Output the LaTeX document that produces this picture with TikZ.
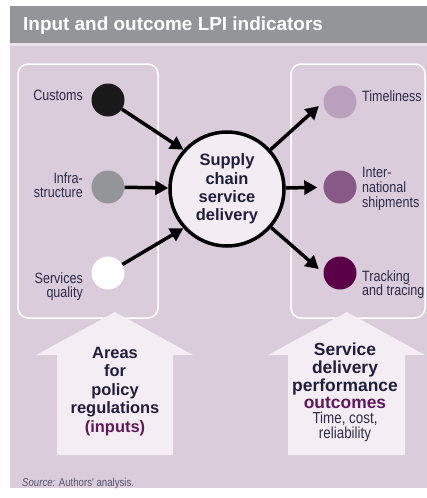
\documentclass[tikz,border=0pt]{standalone}
\usepackage{fontspec}
\setmainfont{Liberation Sans}
\newfontfamily\narrowfont[FakeStretch=0.84]{Liberation Sans}
\usetikzlibrary{arrows.meta,shapes}

\definecolor{hdrgray}{RGB}{147,149,152}
\definecolor{panel}{RGB}{218,204,218}
\definecolor{stripe}{RGB}{233,224,233}
\definecolor{arrowfill}{RGB}{244,237,244}
\definecolor{hub}{RGB}{243,237,243}
\definecolor{timely}{RGB}{186,160,190}
\definecolor{intl}{RGB}{136,88,134}
\definecolor{tracking}{RGB}{90,0,72}
\definecolor{navy}{RGB}{32,30,60}
\definecolor{plum}{RGB}{96,24,90}
\definecolor{labeltext}{RGB}{44,42,72}

\tikzset{
  indot/.style={circle,minimum size=33bp,inner sep=0pt},
  lbl/.style={font=\narrowfont\fontsize{15}{15}\selectfont,text=labeltext,inner sep=0pt},
  headtext/.style={font=\bfseries\fontsize{16.5}{18.5}\selectfont,text=navy,align=center,inner sep=0pt},
  link/.style={->,line width=3.5bp},
  panelbox/.style={draw=white,line width=1.5bp,rounded corners=10bp,minimum height=254bp}
}

\begin{document}
\begin{tikzpicture}[>={Triangle[length=13bp,width=14bp]}]
\useasboundingbox (0,0) rectangle (427bp,-498bp);

\fill[panel] (10bp,-6bp) rectangle (427bp,-488bp);
\fill[hdrgray] (10bp,-6bp) rectangle (427bp,-43bp);
\fill[stripe] (10bp,-43bp) rectangle (427bp,-46bp);
\node (title) at (23bp,-30.5bp)[anchor=base west,text=white,font=\bfseries\fontsize{19}{21}\selectfont,inner sep=0pt] {Input and outcome LPI indicators};

\node (inbox) at (88bp,-191bp)[panelbox,minimum width=140bp] {};
\node (outbox) at (358bp,-191bp)[panelbox,minimum width=134bp] {};

\fill[arrowfill] (115bp,-312bp) -- (193bp,-355bp) -- (173bp,-355bp) -- (173bp,-455bp) -- (57bp,-455bp) -- (57bp,-355bp) -- (36bp,-355bp) -- cycle;
\fill[arrowfill] (347bp,-312bp) -- (425bp,-355bp) -- (405bp,-355bp) -- (405bp,-455bp) -- (288bp,-455bp) -- (288bp,-355bp) -- (268bp,-355bp) -- cycle;

\node (Customs) at (108bp,-100bp)[indot,fill=black!90] {};
\node (Infra) at (108bp,-187bp)[indot,fill=hdrgray] {};
\node (Services) at (108bp,-273bp)[indot,fill=white] {};
\node (Timeliness) at (340bp,-102bp)[indot,fill=timely] {};
\node (Intl) at (340bp,-187bp)[indot,fill=intl] {};
\node (Tracking) at (340bp,-273bp)[indot,fill=tracking] {};
\node (Supply) at (227bp,-189bp)[circle,draw=black,line width=3.5bp,fill=hub,minimum size=114bp,headtext] {Supply\\chain\\service\\delivery};

\node (customslbl) at (83bp,-90bp)[lbl,anchor=north east,align=right] {Customs};
\node (infralbl) at (83bp,-172bp)[lbl,anchor=north east,align=right] {Infra-\\structure};
\node (serviceslbl) at (83bp,-272bp)[lbl,anchor=north east,align=right] {Services\\quality};
\node (timelbl) at (362bp,-90bp)[lbl,anchor=north west,align=left] {Timeliness};
\node (intllbl) at (362bp,-167bp)[lbl,anchor=north west,align=left] {Inter-\\national\\shipments};
\node (tracklbl) at (362bp,-270bp)[lbl,anchor=north west,align=left] {Tracking\\and tracing};

\draw [link] (Customs) -- (Supply.138);
\draw [link] (Infra) -- (Supply);
\draw [link] (Services) -- (Supply.222);
\draw [link,shorten >=6bp] (Supply) -- (Timeliness.west);
\draw [link,shorten >=6bp] (Supply) -- (Intl);
\draw [link,shorten >=6bp] (Supply) -- (Tracking.west);

\node (inhead) at (115bp,-347bp)[headtext,anchor=north] {Areas\\for\\policy\\regulations\\{\color{plum}(inputs)}};
\node (outhead) at (345bp,-343bp)[headtext,anchor=north,font=\bfseries\fontsize{17.5}{17.7}\selectfont] {Service\\delivery\\performance\\{\color{plum}outcomes}};
\node (outnote) at (345bp,-412bp)[lbl,anchor=north,align=center,font=\narrowfont\fontsize{16}{14.5}\selectfont] {Time, cost,\\reliability};

\node (source) at (22bp,-486bp)[anchor=base west,inner sep=0pt,text=labeltext!80,font=\narrowfont\fontsize{11.5}{13}\selectfont] {\textit{Source:} Authors' analysis.};
\end{tikzpicture}
\end{document}
